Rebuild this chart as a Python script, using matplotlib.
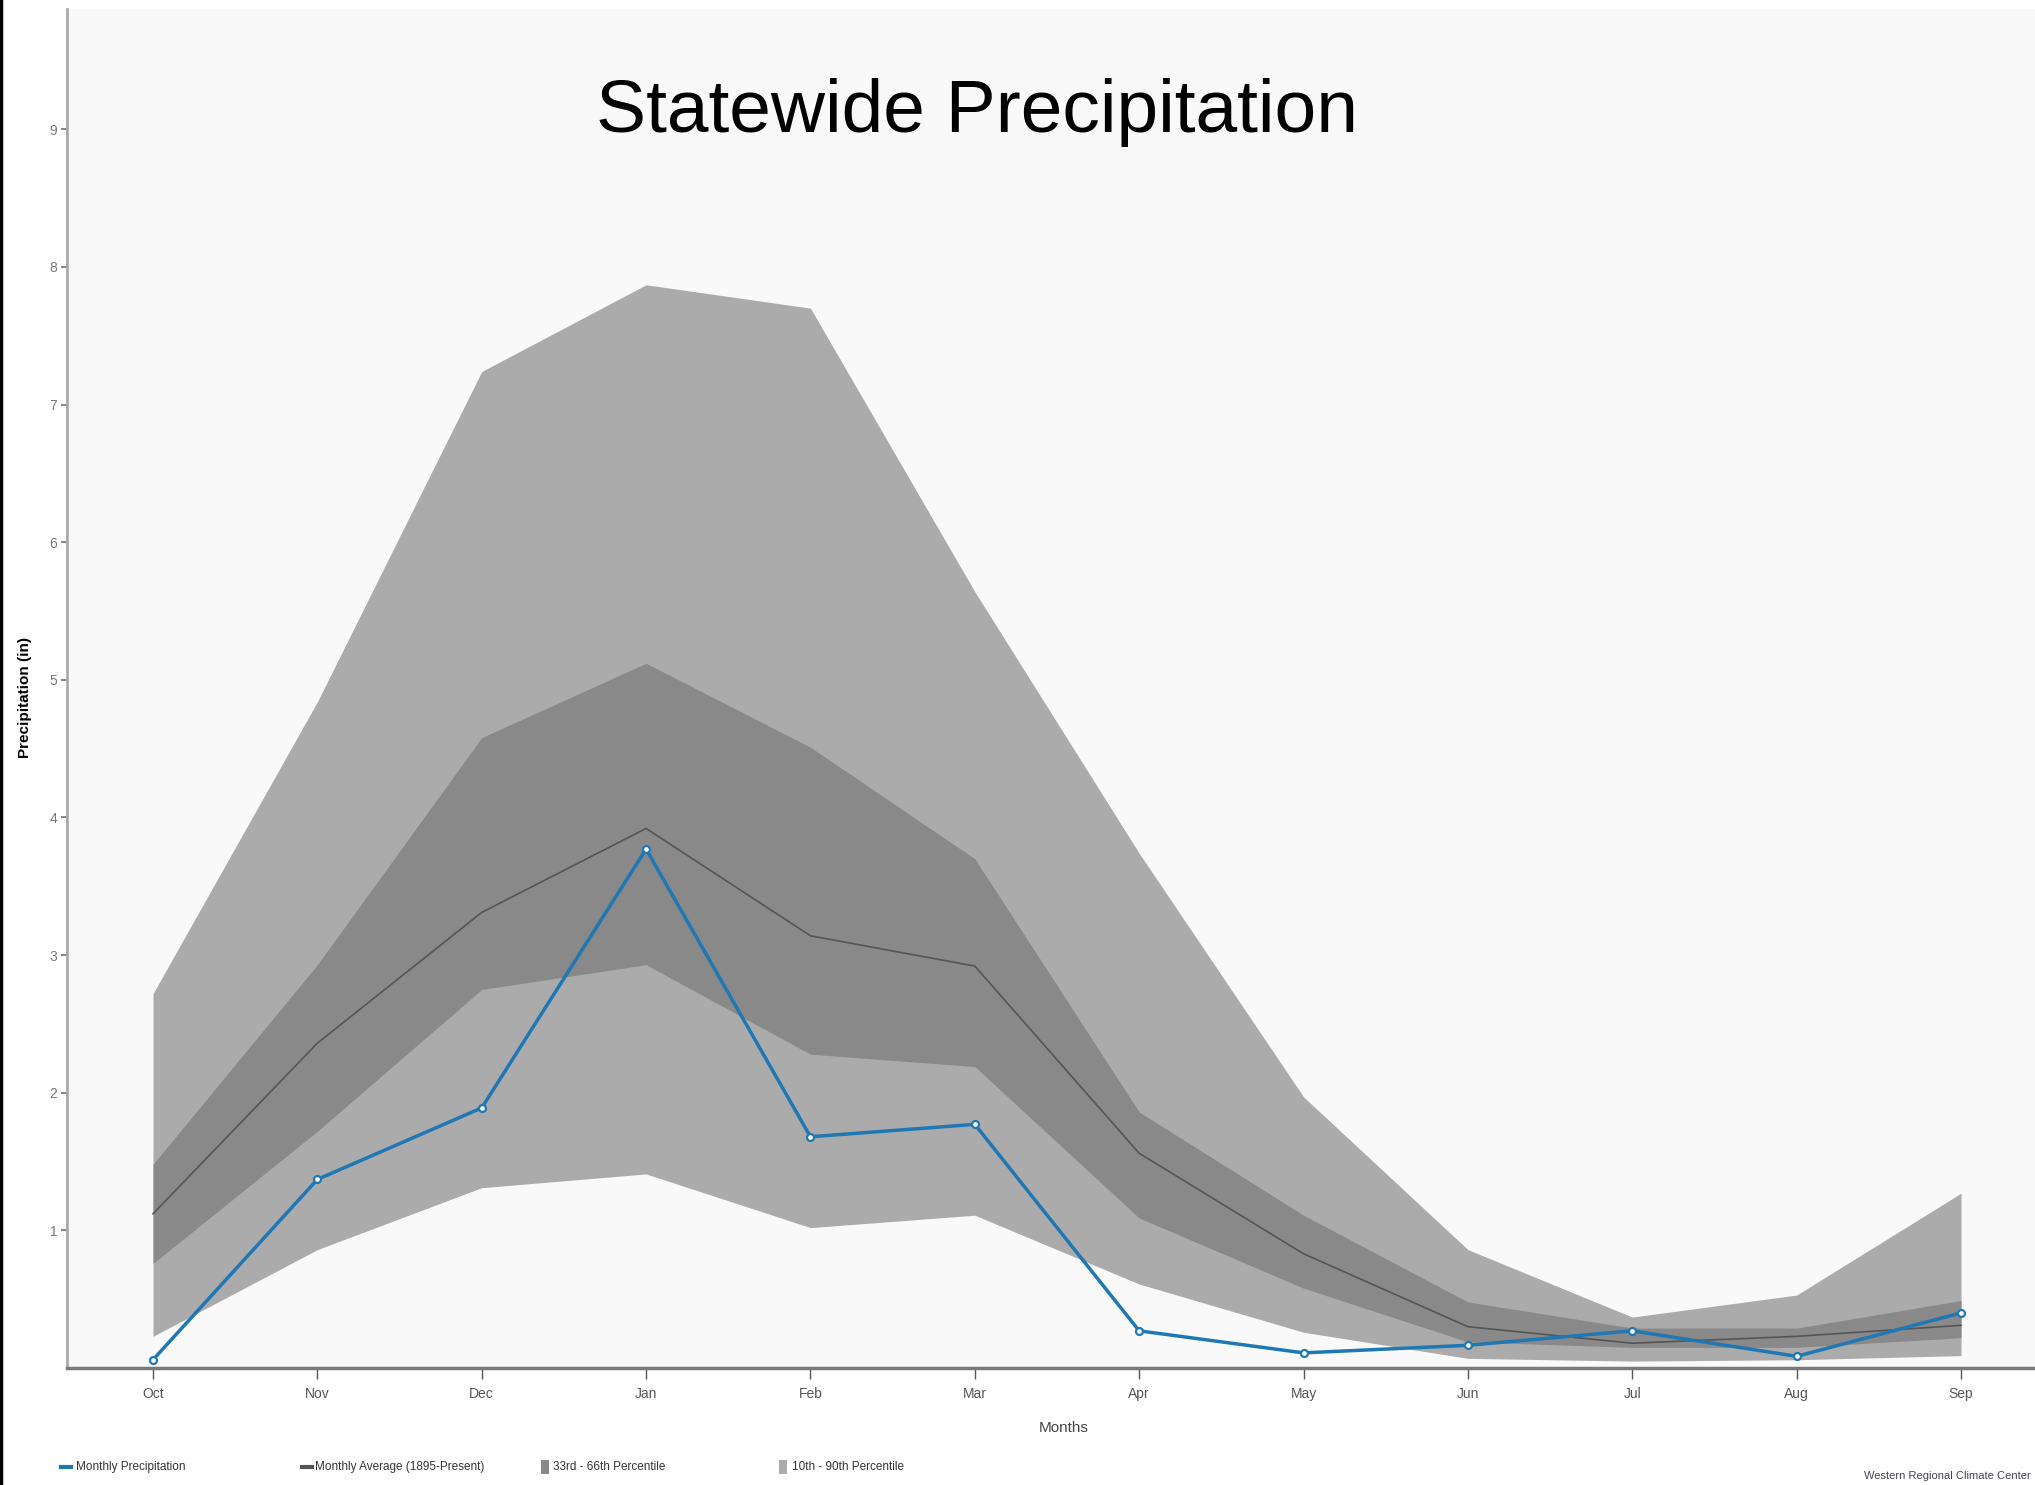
import matplotlib
matplotlib.use('Agg')
from matplotlib import pyplot as plt
from matplotlib.lines import Line2D
from matplotlib.patches import Rectangle
import numpy as np

# Datos (pulgadas)
meses = ['Oct', 'Nov', 'Dec', 'Jan', 'Feb', 'Mar', 'Apr', 'May', 'Jun', 'Jul', 'Aug', 'Sep']
p10 = [0.23, 0.86, 1.31, 1.41, 1.02, 1.11, 0.61, 0.26, 0.07, 0.05, 0.06, 0.09]
p90 = [2.72, 4.84, 7.24, 7.87, 7.70, 5.64, 3.74, 1.97, 0.86, 0.37, 0.53, 1.27]
p33 = [0.76, 1.72, 2.75, 2.93, 2.28, 2.19, 1.09, 0.58, 0.19, 0.15, 0.15, 0.22]
p66 = [1.48, 2.93, 4.58, 5.12, 4.51, 3.70, 1.86, 1.11, 0.48, 0.29, 0.29, 0.49]
promedio = [1.12, 2.36, 3.31, 3.92, 3.14, 2.92, 1.56, 0.83, 0.30, 0.18, 0.23, 0.31]
precip = [0.06, 1.37, 1.89, 3.77, 1.68, 1.77, 0.27, 0.11, 0.165, 0.27, 0.085, 0.40]
yticks = [1, 2, 3, 4, 5, 6, 7, 8, 9]

leyenda = ['Monthly Precipitation', 'Monthly Average (1895-Present)',
           '33rd - 66th Percentile', '10th - 90th Percentile']

fuente = ['Liberation Sans', 'DejaVu Sans']

W, H = 2035, 1485
fig = plt.figure(figsize=(W / 100, H / 100), dpi=100, facecolor='white')

# ejes: y=0 en px 1368, arriba en px 9, izquierda px 67
ax = fig.add_axes([67 / W, 1 - 1368 / H, 1 - 67 / W, (1368 - 9) / H])
ax.set_facecolor('#f9f9f9')

x = np.arange(len(meses))
ax.fill_between(x, p10, p90, color='#ababab', lw=0)
ax.fill_between(x, p33, p66, color='#898989', lw=0)
ax.plot(x, promedio, color='#555555', lw=1.2)
ax.plot(x, precip, color='#1f77b4', lw=2.5, marker='o', markersize=5,
        markerfacecolor='white', markeredgecolor='#1f77b4', markeredgewidth=1.6)

px_unidad = 164.36
ax.set_xlim(-(153 - 67) / px_unidad, 11 + (2035 - 1961) / px_unidad)
ax.set_ylim(0, (1367.6 - 9) / 137.6)

ax.set_xticks(x)
ax.set_xticklabels(meses, family=fuente, fontsize=10, color='#555555')
ax.set_yticks(yticks)
ax.set_yticklabels([str(v) for v in yticks], family=fuente, fontsize=10, color='#777777')
ax.tick_params(axis='x', direction='out', length=8, width=1, color='#555555', pad=6)
ax.tick_params(axis='y', direction='out', length=4, width=1.5, color='#888888', pad=3)

for lado in ['top', 'right']:
    ax.spines[lado].set_visible(False)
ax.spines['left'].set_color('#aaaaaa')
ax.spines['left'].set_linewidth(2)
ax.spines['bottom'].set_color('#7a7a7a')
ax.spines['bottom'].set_linewidth(2.5)

# titulo y etiquetas
fig.text(977 / W, 1 - 132 / H, 'Statewide Precipitation', ha='center', va='baseline',
         family=fuente, fontsize=54, color='black')
fig.text(25 / W, 1 - 697 / H, 'Precipitation (in)', rotation=90, ha='center', va='center',
         family=fuente, fontsize=11, fontweight='bold')
fig.text(1064 / W, 1 - 1428 / H, 'Months', ha='center', va='center',
         family=fuente, fontsize=11, color='#444444')
fig.text(2031 / W, 1 - 1476 / H, 'Western Regional Climate Center', ha='right', va='center',
         family=fuente, fontsize=8, color='#444455')

# leyenda manual
y_ley = 1 - 1467 / H
simbolos = [('linea', '#1f77b4', 61, 76), ('linea', '#555555', 302, 315),
            ('caja', '#898989', 541, 553), ('caja', '#ababab', 779, 792)]
for (tipo, color, xs, xt), texto in zip(simbolos, leyenda):
    if tipo == 'linea':
        fig.add_artist(Line2D([xs / W, (xs + 10) / W], [y_ley, y_ley], color=color, lw=3,
                              transform=fig.transFigure))
    else:
        fig.add_artist(Rectangle((xs / W, y_ley - 7 / H), 8 / W, 14 / H, color=color,
                                 transform=fig.transFigure, lw=0))
    fig.text(xt / W, y_ley, texto, ha='left', va='center', family=fuente,
             fontsize=8.5, color='#333333')

# borde negro izquierdo de la captura
fig.add_artist(Line2D([1 / W, 1 / W], [0, 1], color='black', lw=2.5, transform=fig.transFigure))

plt.savefig('out.png', dpi=100, facecolor='white')
